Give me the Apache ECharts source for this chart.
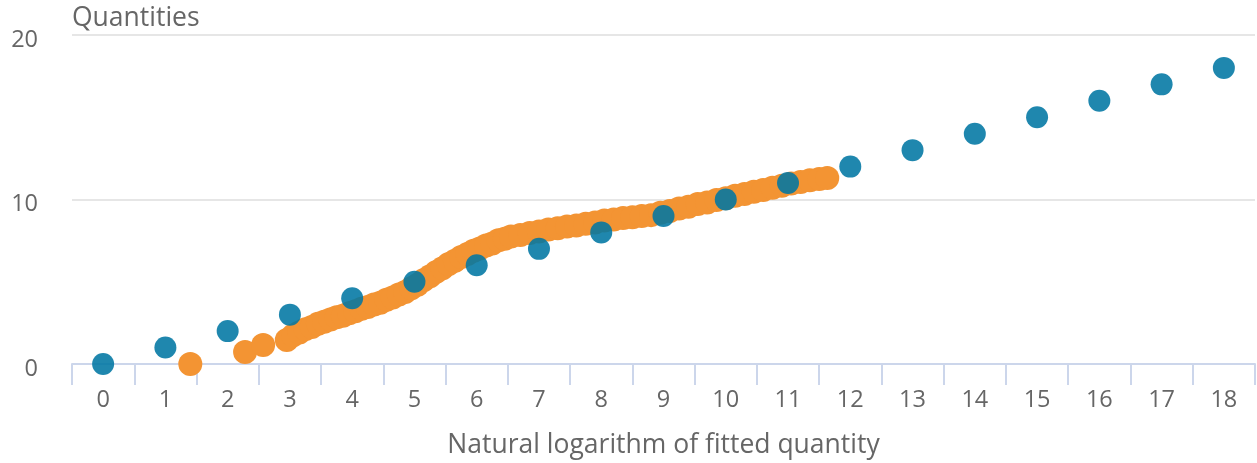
<!DOCTYPE html>
<html>
<head>
<meta charset="utf-8">
<script src="https://cdn.jsdelivr.net/npm/echarts@6/dist/echarts.min.js"></script>
<style>
html,body{margin:0;padding:0;background:#fff;}
#c{width:1257px;height:463px;}
</style>
</head>
<body>
<div id="c"></div>
<script>
var xCategories = ["0","1","2","3","4","5","6","7","8","9","10","11","12","13","14","15","16","17","18"];
var yTicks = [0, 10, 20];

// Reference line points (blue)
var referenceX = [0,1,2,3,4,5,6,7,8,9,10,11,12,13,14,15,16,17,18];
var referenceY = [0,1,2,3,4,5,6,7,8,9,10,11,12,13,14,15,16,17,18];

// Observed quantities (orange)
var observedX = [1.40,2.28,2.57,2.95,3.05,3.15,3.25,3.35,3.45,3.55,3.65,3.75,3.85,3.95,4.05,4.15,4.25,4.35,4.45,4.55,4.65,4.75,4.85,4.95,5.05,5.15,5.25,5.35,5.45,5.55,5.65,5.75,5.85,5.95,6.05,6.15,6.25,6.35,6.45,6.55,6.70,6.85,7.00,7.15,7.30,7.45,7.60,7.75,7.90,8.05,8.20,8.35,8.50,8.65,8.80,8.95,9.10,9.25,9.40,9.55,9.70,9.85,10.00,10.15,10.30,10.45,10.60,10.75,10.90,11.05,11.20,11.35,11.50,11.63];
var observedY = [0.00,0.73,1.16,1.46,1.74,1.92,2.12,2.25,2.44,2.57,2.70,2.84,2.93,3.08,3.20,3.36,3.46,3.62,3.73,3.90,4.04,4.23,4.38,4.60,4.82,5.10,5.34,5.60,5.82,6.08,6.27,6.50,6.68,6.88,7.02,7.20,7.33,7.52,7.62,7.75,7.84,7.97,8.05,8.17,8.25,8.36,8.42,8.53,8.60,8.72,8.78,8.87,8.92,9.00,9.05,9.19,9.30,9.45,9.56,9.72,9.82,9.97,10.08,10.23,10.33,10.47,10.57,10.72,10.83,10.97,11.07,11.17,11.24,11.31];

var FONT = "'Open Sans', 'Noto Sans', sans-serif";
var chart = echarts.init(document.getElementById('c'), null, {renderer: 'canvas'});

function pairs(xs, ys){ return xs.map(function(x,i){ return [x, ys[i]]; }); }

chart.setOption({
  animation: false,
  backgroundColor: '#ffffff',
  title: {
    text: 'Quantities',
    left: 72,
    top: 5,
    textStyle: {color: '#666666', fontSize: 26.5, fontWeight: 'normal', fontFamily: FONT},
    padding: 0
  },
  grid: {left: 72, right: 2, top: 35, bottom: 99, containLabel: false, outerBoundsMode: 'none'},
  xAxis: [
    {
      type: 'category',
      data: xCategories,
      boundaryGap: true,
      name: 'Natural logarithm of fitted quantity',
      nameLocation: 'middle',
      nameGap: 68,
      nameTextStyle: {color: '#666666', fontSize: 26.5, fontFamily: FONT},
      axisLine: {show: true, lineStyle: {color: '#ccd6eb', width: 2}},
      axisTick: {show: true, length: 21, alignWithLabel: false, lineStyle: {color: '#ccd6eb', width: 2}},
      axisLabel: {color: '#666666', fontSize: 23.5, fontFamily: FONT, margin: 24, interval: 0},
      splitLine: {show: false}
    },
    {
      type: 'value',
      min: -0.5,
      max: 18.5,
      show: false
    }
  ],
  yAxis: {
    type: 'value',
    min: yTicks[0],
    max: yTicks[yTicks.length-1],
    interval: 10,
    axisLine: {show: false},
    axisTick: {show: false},
    axisLabel: {
      margin: 34,
      formatter: '{v|{value}}',
      rich: {v: {color: '#666666', fontSize: 23.5, fontFamily: FONT, padding: [10,0,0,0]}}
    },
    splitLine: {show: true, lineStyle: {color: '#e6e6e6', width: 2}}
  },
  series: [
    {
      type: 'scatter',
      xAxisIndex: 1,
      symbolSize: 24,
      itemStyle: {color: '#f39433', opacity: 1},
      data: pairs(observedX, observedY),
      z: 2
    },
    {
      type: 'scatter',
      xAxisIndex: 1,
      symbolSize: 22,
      itemStyle: {color: 'rgb(0,118,163)', opacity: 0.88},
      data: pairs(referenceX, referenceY),
      z: 3
    }
  ]
});
</script>
</body>
</html>
